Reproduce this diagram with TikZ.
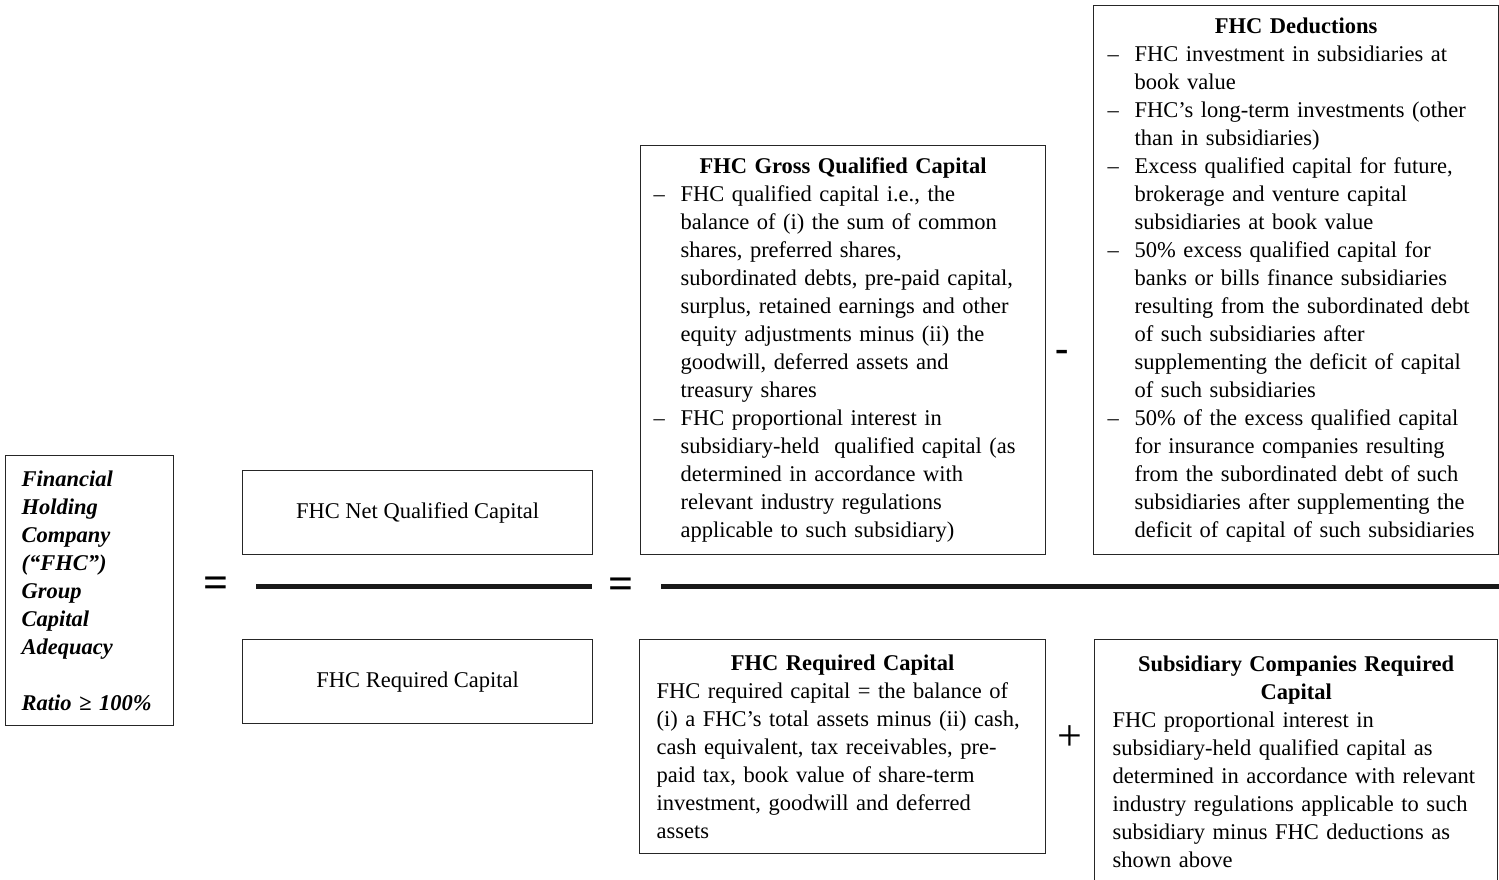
\documentclass[tikz,border=0pt]{standalone}
\usepackage{fontspec}
\setmainfont{Liberation Serif}
\newcommand{\itemdash}{\makebox[27pt][l]{–}}
\newcommand{\itemcont}{\hspace*{27pt}}
\begin{document}
\begin{tikzpicture}[x=1pt,y=-1pt,
    every node/.style={font=\fontsize{22.5}{28}\selectfont},
    box/.style={draw=black!85,line width=1.3pt,anchor=north west,inner ysep=0pt,align=left},
    op/.style={font=\fontsize{44}{44}\selectfont,inner sep=0pt},
    bar/.style={line width=5pt,black!90}]
    \useasboundingbox (0,0) rectangle (1499,880);
    % left hand side
    \node[box,minimum width=168,minimum height=270,text width=136,inner xsep=16,
        font=\fontsize{22.5}{28}\selectfont\bfseries\itshape] (ratio) at (5,455)
        {Financial\\Holding\\Company\\(“FHC”)\\Group\\Capital\\Adequacy\\[28pt]Ratio ≥ 100\%};
    \node[op,font=\fontsize{44}{44}\selectfont\bfseries] (eqa) at (216,587) {=};
    \node[box,align=center,minimum width=350,minimum height=84] (netcap) at (242,470) {FHC Net Qualified Capital};
    \node[box,align=center,minimum width=350,minimum height=84] (reqcap) at (242,639) {FHC Required Capital};
    \draw[bar] (256,586) -- (592,586);
    \node[op,font=\fontsize{44}{44}\selectfont\bfseries] (eqb) at (621,588) {=};
    \draw[bar] (661,586) -- (1499,586);
    % numerator
    \node[box,minimum height=409,text width=379,inner xsep=13] (gross) at (640,145)
        {{\centering\bfseries FHC Gross Qualified Capital\par}
        \itemdash FHC qualified capital i.e., the\\
        \itemcont balance of (i) the sum of common\\
        \itemcont shares, preferred shares,\\
        \itemcont subordinated debts, pre-paid capital,\\
        \itemcont surplus, retained earnings and other\\
        \itemcont equity adjustments minus (ii) the\\
        \itemcont goodwill, deferred assets and\\
        \itemcont treasury shares\\
        \itemdash FHC proportional interest in\\
        \itemcont subsidiary-held\ \ qualified capital (as\\
        \itemcont determined in accordance with\\
        \itemcont relevant industry regulations\\
        \itemcont applicable to such subsidiary)};
    \node[op,font=\fontsize{40}{40}\selectfont\bfseries] (minus) at (1062,356) {-};
    \node[box,minimum height=549,text width=377,inner xsep=14] (deduct) at (1093,5)
        {{\centering\bfseries FHC Deductions\par}
        \itemdash FHC investment in subsidiaries at\\
        \itemcont book value\\
        \itemdash FHC’s long-term investments (other\\
        \itemcont than in subsidiaries)\\
        \itemdash Excess qualified capital for future,\\
        \itemcont brokerage and venture capital\\
        \itemcont subsidiaries at book value\\
        \itemdash 50\% excess qualified capital for\\
        \itemcont banks or bills finance subsidiaries\\
        \itemcont resulting from the subordinated debt\\
        \itemcont of such subsidiaries after\\
        \itemcont supplementing the deficit of capital\\
        \itemcont of such subsidiaries\\
        \itemdash 50\% of the excess qualified capital\\
        \itemcont for insurance companies resulting\\
        \itemcont from the subordinated debt of such\\
        \itemcont subsidiaries after supplementing the\\
        \itemcont deficit of capital of such subsidiaries};
    % denominator
    \node[box,minimum height=214,text width=372,inner xsep=17] (fhcreq) at (639,639)
        {{\centering\bfseries FHC Required Capital\par}
        FHC required capital = the balance of\\
        (i) a FHC’s total assets minus (ii) cash,\\
        cash equivalent, tax receivables, pre-\\
        paid tax, book value of share-term\\
        investment, goodwill and deferred\\
        assets};
    \node[op] (plus) at (1070,738) {+};
    \node[box,minimum height=272,text width=367,inner xsep=18] (subreq) at (1094,639)
        {{\centering\bfseries Subsidiary Companies Required\\Capital\par}
        FHC proportional interest in\\
        subsidiary-held qualified capital as\\
        determined in accordance with relevant\\
        industry regulations applicable to such\\
        subsidiary minus FHC deductions as\\
        shown above\\
        \mbox{}};
\end{tikzpicture}
\end{document}
